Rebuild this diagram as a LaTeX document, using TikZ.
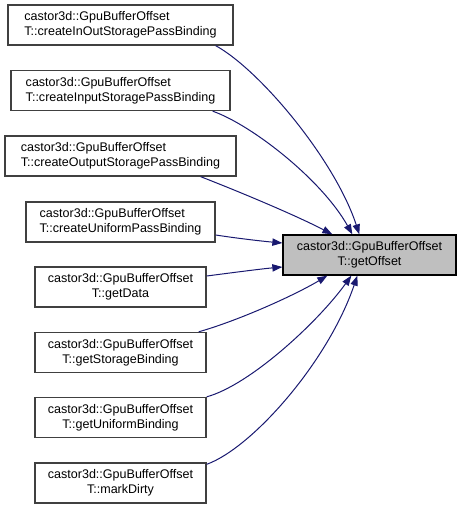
\documentclass[tikz,border=0pt]{standalone}
\usepackage{fontspec}
\setmainfont{Liberation Sans}
\usetikzlibrary{arrows.meta,calc}
\definecolor{edgeblue}{HTML}{191970}
\definecolor{boxgray}{HTML}{404040}
\definecolor{hlfill}{HTML}{BFBFBF}
\begin{document}
\begin{tikzpicture}[x=0.75pt,y=-0.75pt,
  fn/.style={draw=boxgray,line width=1pt,fill=white,minimum height=40*0.75pt,inner sep=0pt,
    font=\fontsize{9.4}{11.2}\selectfont},
  fnl/.style={fn,align=left},
  fnc/.style={fn,align=center},
  hl/.style={draw=black,line width=1pt,fill=hlfill,minimum height=40*0.75pt,inner sep=0pt,
    align=center,font=\fontsize{9.4}{11.2}\selectfont,minimum width=173*0.75pt},
  call/.style={draw=edgeblue,line width=0.75pt,-{Triangle[length=7.5pt,width=5.5pt]}}
]
\useasboundingbox (0,0) rectangle (460,509);
\node[fnl,minimum width=225*0.75pt] (n1) at (120.5,25) {castor3d::GpuBufferOffset\\T::createInOutStoragePassBinding};
\node[fnl,minimum width=219*0.75pt] (n2) at (120.5,90.5) {castor3d::GpuBufferOffset\\T::createInputStoragePassBinding};
\node[fnl,minimum width=231*0.75pt] (n3) at (120.5,156) {castor3d::GpuBufferOffset\\T::createOutputStoragePassBinding};
\node[fnl,minimum width=189*0.75pt] (n4) at (120.5,222) {castor3d::GpuBufferOffset\\T::createUniformPassBinding};
\node[fnc,minimum width=171*0.75pt] (n5) at (120.5,287) {castor3d::GpuBufferOffset\\T::getData};
\node[fnc,minimum width=171*0.75pt] (n6) at (120.5,352.5) {castor3d::GpuBufferOffset\\T::getStorageBinding};
\node[fnc,minimum width=171*0.75pt] (n7) at (120.5,417.5) {castor3d::GpuBufferOffset\\T::getUniformBinding};
\node[fnc,minimum width=171*0.75pt] (n8) at (120.5,483) {castor3d::GpuBufferOffset\\T::markDirty};
\node[hl] (t) at (369.5,255) {castor3d::GpuBufferOffset\\T::getOffset};

\draw[call] ($(n1.south east)+(-18,0)$) .. controls (260,70) and (335,160) .. ($(t.north west)+(77,0)$);
\draw[call] ($(n2.south east)+(-18,0)$) .. controls (252,125) and (322,180) .. ($(t.north west)+(70,0)$);
\draw[call] ($(n3.south east)+(-36,0)$) .. controls (240,192) and (295,215) .. ($(t.north west)+(50,0)$);
\draw[call] ($(n4.east)+(0,13)$) .. controls (235,238) and (260,241) .. ($(t.west)+(0,-12)$);
\draw[call] ($(n5.east)+(0,-11)$) .. controls (230,273) and (260,269) .. ($(t.west)+(0,12)$);
\draw[call] ($(n6.north east)+(-8,0)$) .. controls (240,320) and (295,295) .. ($(t.south west)+(45,0)$);
\draw[call] ($(n7.north east)+(0,0)$) .. controls (250,385) and (318,322) .. ($(t.south west)+(69,0)$);
\draw[call] ($(n8.north east)+(0,2)$) .. controls (252,448) and (328,362) .. ($(t.south west)+(75,0)$);
\end{tikzpicture}
\end{document}
